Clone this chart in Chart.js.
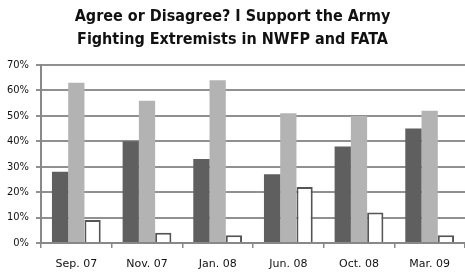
<!DOCTYPE html>
<html>
<head>
<meta charset="utf-8">
<script src="https://cdn.jsdelivr.net/npm/chart.js@4"></script>
<style>
  html, body { margin: 0; padding: 0; background: #fff; }
  #wrap { width: 465px; height: 275px; }
</style>
</head>
<body>
<div id="wrap"><canvas id="armyChart" width="465" height="275"></canvas></div>
<script>
const labels = ['Sep. 07', 'Nov. 07', 'Jan. 08', 'Jun. 08', 'Oct. 08', 'Mar. 09'];
const agree = [28, 40, 33, 27, 38, 45];
const disagree = [63, 56, 64, 51, 50, 52];
const noOpinion = [9, 4, 3, 22, 12, 3];

const data = {
    labels: labels,
    datasets: [
        { label: 'Agree', data: agree, backgroundColor: '#5f5f5f' },
        { label: 'Disagree', data: disagree, backgroundColor: '#b3b3b3' },
        { label: 'No opinion', data: noOpinion, backgroundColor: '#ffffff',
          borderColor: '#555555', borderWidth: 2 }
    ]
};

const options = {
    responsive: false,
    animation: false,
    layout: { padding: { left: 0, right: 0, top: 0, bottom: 0 } },
    datasets: { bar: { barPercentage: 1.0, categoryPercentage: 0.69 } },
    plugins: {
        legend: { display: false },
        tooltip: { enabled: false },
        title: {
            display: true,
            text: ['Agree or Disagree? I Support the Army', 'Fighting Extremists in NWFP and FATA'],
            color: '#111',
            font: { family: 'DejaVu Sans Condensed', size: 16, weight: 'bold', lineHeight: 1.44 },
            padding: { top: 5, bottom: 14 }
        }
    },
    scales: {
        x: {
            afterFit: scale => { scale.height = 32; },
            grid: { display: true, drawOnChartArea: false, drawTicks: true, tickLength: 5,
                    offset: true, color: '#888', lineWidth: 1.5 },
            border: { color: '#888', width: 2 },
            ticks: { color: '#111', font: { family: 'DejaVu Sans', size: 11 }, padding: 10 }
        },
        y: {
            min: 0, max: 70,
            afterFit: scale => { scale.width = 41; },
            ticks: { stepSize: 10, color: '#111', padding: 7,
                     font: { family: 'DejaVu Sans Condensed', size: 11 },
                     callback: v => v + '%' },
            grid: { color: '#909090', lineWidth: 2, tickLength: 5 },
            border: { color: '#888', width: 2 }
        }
    }
};

new Chart('armyChart', { type: 'bar', data, options });
</script>
</body>
</html>
